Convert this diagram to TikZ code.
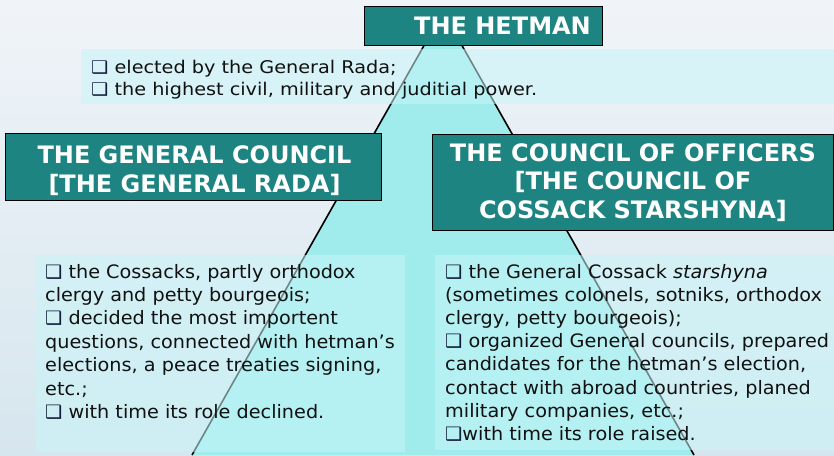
\documentclass[tikz,border=0pt]{standalone}
\usepackage{fontspec}
\setmainfont{DejaVu Sans}
\newfontfamily\bodyfont[FakeStretch=1.04]{DejaVu Sans}
\newfontfamily\hetfont[FakeStretch=1.1]{DejaVu Sans}
\definecolor{teal1}{RGB}{30,132,130}
\definecolor{tri}{RGB}{160,236,236}
\definecolor{boxc}{RGB}{200,245,248}
\definecolor{bgA}{RGB}{240,244,248}
\definecolor{bgB}{RGB}{214,230,238}
\definecolor{bul}{RGB}{20,30,60}
\definecolor{txt}{RGB}{17,17,17}
\newcommand{\bx}{{\color{bul}❑}}
\tikzset{
  titlebox/.style={draw=black, line width=1.3pt, fill=teal1, inner sep=0pt},
  titletext/.style={text=white, font=\bfseries\fontsize{24}{28.5}\selectfont, align=center, inner sep=0pt},
  infobox/.style={fill=boxc, fill opacity=0.55, draw=none},
  infotext/.style={text=txt, align=left, inner sep=0pt, anchor=base west},
}
\begin{document}
\begin{tikzpicture}[x=1pt,y=-1pt]
\useasboundingbox (0,0) rectangle (834,455);
\shade[top color=bgA, bottom color=bgB] (0,0) rectangle (834,455);
% pyramid
\coordinate (apex) at (443,12);
\coordinate (bl) at (192,455);
\coordinate (br) at (694,455);
\fill[tri] (apex) -- (bl) -- (br) -- cycle;
\draw[line width=1.6pt] (bl) -- (apex) -- (br);
% translucent text panels
\fill[infobox] (81,49) rectangle (834,104);
\fill[infobox] (36,255) rectangle (405,452);
\fill[infobox] (435,255) rectangle (834,450);
% titles
\node[titlebox, minimum width=238pt, minimum height=39pt, anchor=north west] (hetman) at (364,6) {};
\node[titletext, anchor=base east] (hetmantxt) at (591,34) {THE HETMAN};
\node[titlebox, minimum width=376pt, minimum height=67pt, anchor=north west] (gc) at (5,133) {};
\node[titletext, anchor=base] (gctxt) at (194.5,192) {THE GENERAL COUNCIL\\{[}THE GENERAL RADA]};
\node[titlebox, minimum width=401pt, minimum height=96pt, anchor=north west] (co) at (432,134) {};
\node[titletext, anchor=base] (cotxt) at (633,218) {THE COUNCIL OF OFFICERS\\{[}THE COUNCIL OF\\COSSACK STARSHYNA]};
% texts
\node[infotext, font=\hetfont\fontsize{17.5}{22}\selectfont] (htext) at (91,95)
 {\bx{} elected by the General Rada;\\\bx{} the highest civil, military and juditial power.};
\node[infotext, font=\bodyfont\fontsize{18.5}{23.4}\selectfont] (gctext) at (45,418.4)
 {\bx{} the Cossacks, partly orthodox\\
  clergy and petty bourgeois;\\
  \bx{} decided the most importent\\
  questions, connected with hetman’s\\
  elections, a peace treaties signing,\\
  etc.;\\
  \bx{} with time its role declined.};
\node[infotext, font=\bodyfont\fontsize{18.5}{23.2}\selectfont] (cotext) at (445,440.4)
 {\bx{} the General Cossack \textit{starshyna}\\
  (sometimes colonels, sotniks, orthodox\\
  clergy, petty bourgeois);\\
  \bx{} organized General councils, prepared\\
  candidates for the hetman’s election,\\
  contact with abroad countries, planed\\
  military companies, etc.;\\
  \bx{}with time its role raised.};
\end{tikzpicture}
\end{document}
